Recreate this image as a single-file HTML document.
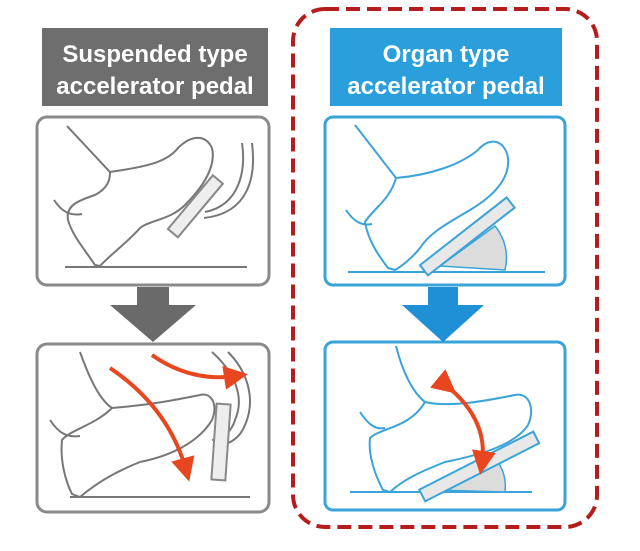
<!DOCTYPE html>
<html><head><style>
body{margin:0;background:#fff;width:640px;height:546px;overflow:hidden;font-family:"Liberation Sans",sans-serif}
</style></head><body>
<svg width="640" height="546" viewBox="0 0 640 546" xmlns="http://www.w3.org/2000/svg">
<defs>
<marker id="ah" markerWidth="6" markerHeight="6" refX="3" refY="3" orient="auto" markerUnits="strokeWidth"><path d="M0,0 L6,3 L0,6 z" fill="#e8461e"/></marker>
</defs>
<!-- red dashed frame -->
<rect x="293" y="9" width="304" height="518" rx="32" fill="none" stroke="#b51c1c" stroke-width="4" stroke-dasharray="14,7"/>
<!-- headers -->
<rect x="42" y="28" width="226" height="78" fill="#6e6e6e"/>
<text x="155" y="62" font-size="24" font-weight="bold" fill="#fff" text-anchor="middle">Suspended type</text>
<text x="155" y="94" font-size="24" font-weight="bold" fill="#fff" text-anchor="middle">accelerator pedal</text>
<rect x="330" y="28" width="232" height="78" fill="#2a9fdc"/>
<text x="446" y="62" font-size="24" font-weight="bold" fill="#fff" text-anchor="middle">Organ type</text>
<text x="446" y="94" font-size="24" font-weight="bold" fill="#fff" text-anchor="middle">accelerator pedal</text>
<!-- panels -->
<rect x="37" y="117" width="232" height="168" rx="10" fill="#fff" stroke="#8a8a8a" stroke-width="3"/>
<rect x="37" y="344" width="232" height="168" rx="10" fill="#fff" stroke="#8a8a8a" stroke-width="3"/>
<rect x="325" y="117" width="240" height="168" rx="8" fill="#fff" stroke="#3aa3d8" stroke-width="3"/>
<rect x="325" y="342" width="240" height="168" rx="8" fill="#fff" stroke="#3aa3d8" stroke-width="3"/>
<!-- arrows -->
<path d="M137,287 H169 V305 H196 L153,342 L110,305 H137 Z" fill="#6a6a6a"/>
<path d="M428,287 H458 V305 H484 L443,342 L402,305 H428 Z" fill="#1f8fd6"/>
<!-- left panel 1 -->
<g fill="none" stroke="#777" stroke-width="2">
<path d="M67,126 L110,172 C135,168 165,165 178,148 C190,136 205,133 212,148 C216,165 205,185 185,205 C170,220 150,220 140,228 C130,240 110,255 100,266 L95,265 C85,250 72,235 68,220 C65,205 80,200 95,195 C108,188 110,180 110,172"/>
<path d="M54,200 C62,212 70,216 82,214"/>
<path d="M242,143 C246,170 240,205 205,212"/>
<path d="M252,143 C256,175 250,213 204,218"/>
<line x1="65" y1="267" x2="247" y2="267"/>
</g>
<rect x="160" y="200" width="70" height="13" transform="rotate(-50 195 206)" fill="#eee" stroke="#888" stroke-width="2"/>
<!-- left panel 2 -->
<g fill="none" stroke="#777" stroke-width="2">
<path d="M80,352 C90,380 100,400 112,408 C150,405 175,400 200,395 C212,392 218,405 212,420 C200,440 175,455 140,462 C120,470 100,480 80,497 L72,494 C65,480 60,460 62,440 C70,430 95,425 112,408"/>
<path d="M50,420 C58,432 66,438 80,436"/>
<path d="M212,352 C232,370 246,395 235,420 C232,430 225,438 212,440"/>
<path d="M228,352 C248,372 256,400 245,425 C240,438 230,444 218,446"/>
<line x1="70" y1="497" x2="250" y2="497"/>
</g>
<rect x="214" y="404" width="14" height="76" fill="#eee" stroke="#888" stroke-width="2" transform="rotate(4 221 442)"/>
<path d="M152,355 C180,375 210,380 236,376" fill="none" stroke="#e8461e" stroke-width="4" marker-end="url(#ah)"/>
<path d="M110,368 C150,395 175,430 186,470" fill="none" stroke="#e8461e" stroke-width="4" marker-end="url(#ah)"/>
<!-- right panel 1 -->
<g fill="none" stroke="#3aa3d8" stroke-width="2">
<path d="M355,125 L396,178 C430,175 460,165 478,150 C490,136 505,140 508,158 C510,178 495,195 470,210 C450,222 430,232 420,248 C412,258 402,266 395,270 L388,268 C378,255 368,240 365,222 C372,210 390,200 396,178"/>
<path d="M346,210 C354,222 362,226 372,224"/>
<line x1="348" y1="272" x2="545" y2="272"/>
</g>
<path d="M440,266 L495,226 A50,50 0 0 1 505,270 Z" fill="#dcdcdc" stroke="#3aa3d8" stroke-width="1.5"/>
<rect x="412" y="230" width="110" height="13" transform="rotate(-38 467 236)" fill="#e8e8e8" stroke="#3aa3d8" stroke-width="2"/>
<!-- right panel 2 -->
<g fill="none" stroke="#3aa3d8" stroke-width="2">
<path d="M396,346 C402,370 412,392 425,402 C450,408 490,400 515,395 C530,392 535,410 528,425 C515,445 480,455 445,462 C425,470 405,478 390,492 L383,490 C375,475 368,455 370,438 C380,428 410,428 425,402"/>
<path d="M360,412 C368,424 375,430 385,428"/>
<line x1="350" y1="492" x2="532" y2="492"/>
</g>
<path d="M435,490 L498,462 A45,45 0 0 1 505,492 Z" fill="#dcdcdc" stroke="#3aa3d8" stroke-width="1.5"/>
<rect x="415" y="460" width="128" height="13" transform="rotate(-27 479 466)" fill="#e8e8e8" stroke="#3aa3d8" stroke-width="2"/>
<path d="M447,386 C470,405 487,430 482,463" fill="none" stroke="#e8461e" stroke-width="4" marker-end="url(#ah)" marker-start="url(#ah)"/>
</svg>
</body></html>
